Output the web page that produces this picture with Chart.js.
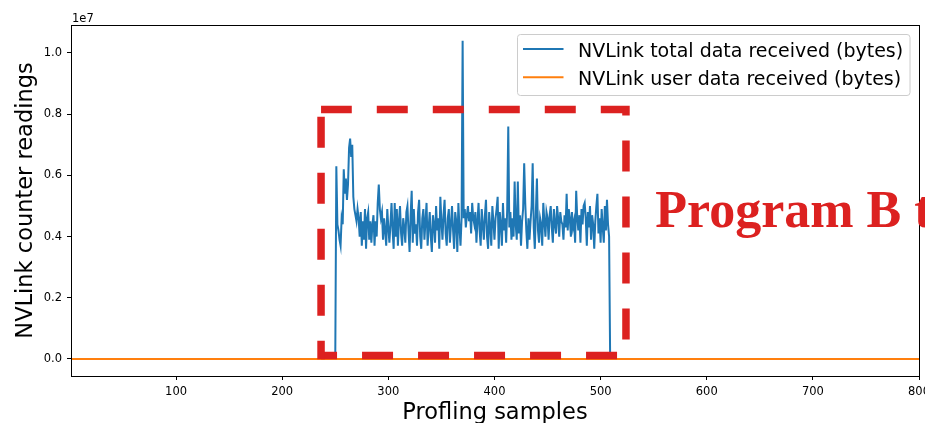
<!DOCTYPE html>
<html><head><meta charset="utf-8">
<script src="https://cdn.jsdelivr.net/npm/chart.js@4.4.1/dist/chart.umd.min.js"></script>
<style>html,body{margin:0;padding:0;background:#fff;overflow:hidden}</style>
</head><body>
<canvas id="c" width="925" height="423"></canvas>
<script>
// ---- data (values in millions of bytes; axis shows units of 1e7) ----
const sampleRange = [1, 800];
const activeStart = 251; // first sample with traffic
const totalReceivedMillions = [
 6.3,4.4,4.2,3.9,3.7,4.6,4.4,6.2,5.4,5.9,
 5.2,5.7,6.9,7.2,6.6,7.0,5.3,4.9,4.7,4.5,
 4.9,4.6,4.0,4.8,3.7,4.5,3.9,4.9,3.6,4.6,
 4.8,3.9,4.5,3.8,4.4,4.7,3.7,4.5,4.0,5.1,
 5.7,4.9,4.6,4.8,3.9,4.6,4.2,3.7,4.9,4.3,
 3.8,4.4,5.1,4.2,3.6,5.1,4.0,4.9,3.7,4.5,
 5.0,4.1,3.7,4.6,4.3,3.8,4.8,5.0,4.2,3.5,
 4.7,5.5,3.8,4.9,4.1,4.4,3.7,4.8,5.2,4.0,
 3.6,4.6,4.9,3.9,4.5,5.1,3.7,4.3,4.8,4.0,
 3.5,4.7,4.4,3.8,5.0,4.2,4.6,3.6,5.3,4.5,
 3.9,4.7,5.2,4.1,3.7,4.6,4.9,3.8,4.4,5.0,
 4.2,3.6,4.8,4.5,3.5,5.1,4.3,3.7,4.6,10.4,
 4.6,4.9,4.3,4.7,5.0,4.5,4.8,4.1,5.1,4.6,
 4.4,4.8,3.8,4.5,5.1,4.2,3.7,4.9,4.4,3.9,
 4.7,5.2,4.0,3.6,4.8,4.3,3.7,5.0,4.5,3.9,
 4.6,4.9,5.3,3.6,4.8,4.4,3.7,5.1,4.2,4.6,
 3.8,4.9,7.6,4.3,4.8,3.9,4.6,4.0,5.8,4.4,
 3.9,5.8,4.1,4.7,3.7,4.5,4.9,6.4,5.1,4.2,
 3.6,4.6,3.9,4.5,5.0,6.4,4.3,3.6,4.8,5.9,
 4.2,3.8,4.6,4.4,3.7,5.1,4.5,4.0,4.8,4.6,
 3.9,4.7,5.0,4.3,3.8,4.9,4.4,4.1,5.0,4.6,
 4.0,4.8,4.5,4.4,3.9,4.7,4.3,5.4,4.2,4.9,
 4.6,4.0,4.8,4.3,4.5,3.8,5.5,4.6,4.2,4.7,
 3.8,4.9,4.4,5.0,5.1,4.6,3.7,4.8,4.3,5.0,
 3.9,4.7,4.4,3.6,4.5,5.0,5.4,4.1,4.6,3.8,
 4.9,4.3,3.8,5.0,4.2,5.2,4.4,4.0
];
const idleReading = 0;          // counter reading outside the active window
const userReceivedReading = 0;  // user data counter stays at zero throughout
const xTickValues = [100,200,300,400,500,600,700,800];
const yTickValues = [0,2,4,6,8,10];
const yTickLabels = ['0.0','0.2','0.4','0.6','0.8','1.0'];
const yLimits = [-0.556, 10.915];
const seriesLabels = ['NVLink total data received (bytes)','NVLink user data received (bytes)'];
const highlightBox = {x0: 236.6, x1: 523.9, y0: 0.114, y1: 8.15};
const highlightText = 'Program B t';
const highlightTextPos = {x: 551.5, y: 4.3};

// build point lists from the readings
const activeEnd = activeStart + totalReceivedMillions.length - 1;
const totalPoints = [{x: sampleRange[0], y: idleReading}, {x: activeStart - 1, y: idleReading}];
totalReceivedMillions.forEach((v, i) => totalPoints.push({x: activeStart + i, y: v}));
totalPoints.push({x: activeEnd + 1, y: idleReading}, {x: sampleRange[1], y: idleReading});
const userPoints = [{x: sampleRange[0], y: userReceivedReading}, {x: sampleRange[1], y: userReceivedReading}];

const RED = '#dc2120';
const FONT = '"DejaVu Sans", sans-serif';

const overlay = {
  id: 'overlay',
  afterDraw(chart) {
    const {ctx, chartArea: a, scales: {x, y}} = chart;
    ctx.save();
    // frame (spines)
    ctx.strokeStyle = '#000'; ctx.lineWidth = 1; ctx.setLineDash([]);
    ctx.strokeRect(Math.round(a.left) + 0.5, Math.round(a.top) + 0.5,
      Math.round(a.right) - Math.round(a.left), Math.round(a.bottom) - Math.round(a.top));
    // offset text 1e7
    ctx.fillStyle = '#000'; ctx.font = '11.5px ' + FONT; ctx.textBaseline = 'alphabetic'; ctx.textAlign = 'left';
    ctx.fillText('1e7', a.left + 1, a.top - 3.5);

    // legend
    const lx0 = 517.5, ly0 = 34.5, lw = 392.5, lh = 61;
    ctx.beginPath();
    if (ctx.roundRect) ctx.roundRect(lx0, ly0, lw, lh, 3); else ctx.rect(lx0, ly0, lw, lh);
    ctx.fillStyle = 'rgba(255,255,255,0.8)'; ctx.fill();
    ctx.strokeStyle = '#cccccc'; ctx.lineWidth = 1; ctx.stroke();
    chart.data.datasets.forEach((ds, i) => {
      const cy = 49 + i * 28.3;
      ctx.beginPath(); ctx.strokeStyle = ds.borderColor; ctx.lineWidth = 2;
      ctx.moveTo(523, cy); ctx.lineTo(563.5, cy); ctx.stroke();
      ctx.fillStyle = '#000'; ctx.font = '19px ' + FONT;
      ctx.fillText(ds.label, 578, cy + 7.7);
    });

    // highlight box (dashed)
    const px0 = x.getPixelForValue(highlightBox.x0), px1 = x.getPixelForValue(highlightBox.x1);
    const py0 = y.getPixelForValue(highlightBox.y0), py1 = y.getPixelForValue(highlightBox.y1);
    ctx.strokeStyle = RED; ctx.lineWidth = 7.5; ctx.lineCap = 'butt'; ctx.lineJoin = 'miter';
    ctx.setLineDash([31, 25]);
    ctx.lineDashOffset = 15;
    ctx.beginPath(); ctx.moveTo(px0, py0); ctx.lineTo(px1, py0); ctx.lineTo(px1, py1); ctx.lineTo(px0, py1);
    ctx.stroke();
    ctx.lineDashOffset = 48.8;
    ctx.beginPath(); ctx.moveTo(px0, py1); ctx.lineTo(px0, py0 + 3.75); ctx.stroke();
    ctx.setLineDash([]);

    // annotation text
    ctx.fillStyle = RED; ctx.font = 'bold 52px "Liberation Serif", "Times New Roman", serif';
    ctx.textBaseline = 'alphabetic'; ctx.textAlign = 'left';
    ctx.fillText(highlightText, x.getPixelForValue(highlightTextPos.x), y.getPixelForValue(highlightTextPos.y));
    ctx.restore();
  }
};

new Chart(document.getElementById('c'), {
  type: 'line',
  data: {
    datasets: [
      {label: seriesLabels[0], data: totalPoints, borderColor: '#1f77b4', borderWidth: 2, pointRadius: 0, tension: 0, order: 1},
      {label: seriesLabels[1], data: userPoints, borderColor: '#ff7f0e', borderWidth: 2, pointRadius: 0, tension: 0, order: 0}
    ]
  },
  options: {
    responsive: false, animation: false, devicePixelRatio: 1,
    layout: {padding: {top: 25, right: 6, left: 0, bottom: 0}},
    plugins: {legend: {display: false}, tooltip: {enabled: false}},
    scales: {
      x: {
        type: 'linear', min: sampleRange[0], max: sampleRange[1],
        afterBuildTicks: s => { s.ticks = xTickValues.map(v => ({value: v})); },
        afterFit: s => { s.height = 47; s.paddingLeft = 0; s.paddingRight = 0; },
        ticks: {color: '#000', font: {family: FONT, size: 11.5}, padding: 5.5, maxRotation: 0, autoSkip: false},
        grid: {display: true, drawOnChartArea: false, drawTicks: true, tickLength: 4, color: '#000'},
        border: {display: false},
        title: {display: true, text: 'Profling samples', color: '#000', font: {family: FONT, size: 22.5, lineHeight: 1}, padding: {top: 0, bottom: -1}}
      },
      y: {
        type: 'linear', min: yLimits[0], max: yLimits[1],
        afterBuildTicks: s => { s.ticks = yTickValues.map(v => ({value: v})); },
        afterFit: s => { s.width = 71; },
        ticks: {color: '#000', font: {family: FONT, size: 11.5}, padding: 5,
          callback: (v) => { const k = yTickValues.indexOf(v); return k >= 0 ? yTickLabels[k] : ''; }},
        grid: {display: true, drawOnChartArea: false, drawTicks: true, tickLength: 4, color: '#000'},
        border: {display: false},
        title: {display: true, text: 'NVLink counter readings', color: '#000', font: {family: FONT, size: 22.5, lineHeight: 1}, padding: {top: 14.5, bottom: 0}}
      }
    }
  },
  plugins: [overlay]
});
</script>
</body></html>
